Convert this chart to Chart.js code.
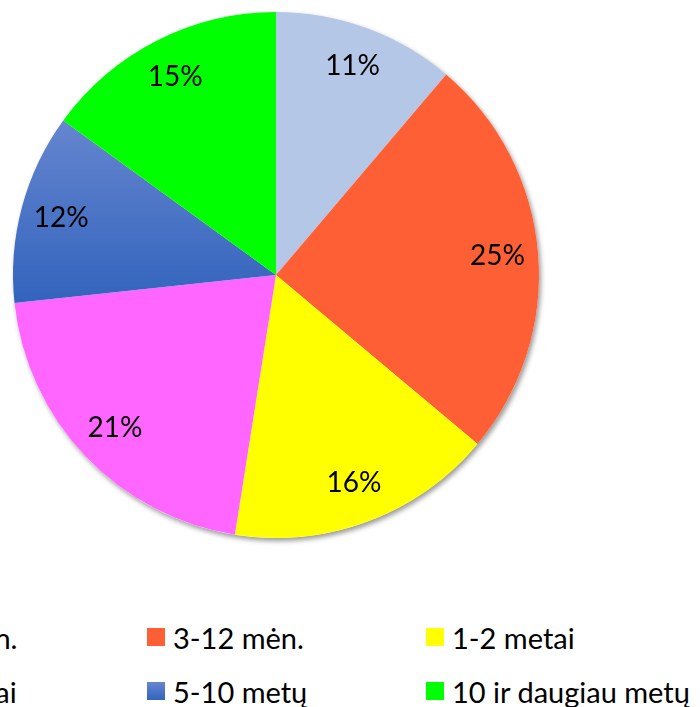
<!DOCTYPE html>
<html>
<head>
<meta charset="utf-8">
<script src="https://cdn.jsdelivr.net/npm/chart.js@4/dist/chart.umd.min.js"></script>
<style>
  html, body { margin: 0; padding: 0; background: #fff; overflow: hidden; }
  #wrap { position: relative; width: 700px; height: 707px; overflow: hidden; }
  #pie { position: absolute; left: 0; top: 0; }
  #legend {
    position: absolute; left: -132px; top: 628px;
    display: grid; grid-template-columns: repeat(3, 279px); grid-auto-rows: 54px;
    font-family: Lato, "Open Sans", sans-serif; font-size: 29px; color: #000;
  }
  .item { display: flex; align-items: flex-start; white-space: nowrap; }
  .box { width: 18px; height: 18px; margin-right: 8px; flex: none; }
  .txt { line-height: 18px; position: relative; top: 1px; }
</style>
</head>
<body>
<div id="wrap">
  <canvas id="pie" width="700" height="560"></canvas>
  <div id="legend"></div>
</div>
<script>
// categories and shares (clockwise from 12 o'clock)
const categories = ['Iki 3 mėn.', '3-12 mėn.', '1-2 metai', '2-5 metai', '5-10 metų', '10 ir daugiau metų'];
const shares = [11.2, 24.9, 16.4, 20.8, 11.7, 15.0];
const sliceColors = ['#B4C7E7', '#FF5F35', '#FFFF00', '#FF66FF', '#4472C4', '#00FF00'];

const total = shares.reduce((a, b) => a + b, 0);

// blue slice has a vertical gradient
function sliceColor(ctx) {
  const i = ctx.dataIndex;
  if (i !== 4) return sliceColors[i];
  const area = ctx.chart.chartArea;
  if (!area) return sliceColors[i];
  const h = area.bottom - area.top;
  const g = ctx.chart.ctx.createLinearGradient(0, area.top + h * 0.2, 0, area.top + h * 0.55);
  g.addColorStop(0, '#6686CF');
  g.addColorStop(1, '#3364BD');
  return g;
}

// soft shadow under the whole pie
const pieShadow = {
  id: 'pieShadow',
  beforeDatasetsDraw(chart) {
    const arc = chart.getDatasetMeta(0).data[0];
    if (!arc) return;
    const c = chart.ctx;
    c.save();
    c.shadowColor = 'rgba(0,0,0,0.4)';
    c.shadowBlur = 5;
    c.shadowOffsetX = 2;
    c.shadowOffsetY = 3;
    c.fillStyle = '#fff';
    c.beginPath();
    c.arc(arc.x, arc.y, arc.outerRadius, 0, Math.PI * 2);
    c.fill();
    c.restore();
  }
};

// percent labels inside the slices
const pctLabels = {
  id: 'pctLabels',
  afterDatasetsDraw(chart) {
    const c = chart.ctx;
    c.save();
    c.font = '28px Lato, "Open Sans", sans-serif';
    c.fillStyle = '#000';
    c.textAlign = 'center';
    c.textBaseline = 'middle';
    chart.getDatasetMeta(0).data.forEach((arc, i) => {
      const mid = (arc.startAngle + arc.endAngle) / 2;
      const r = arc.outerRadius * 0.845;
      const txt = Math.round(shares[i] / total * 100) + '%';
      c.fillText(txt, arc.x + Math.cos(mid) * r, arc.y + Math.sin(mid) * r);
    });
    c.restore();
  }
};

new Chart(document.getElementById('pie'), {
  type: 'pie',
  data: {
    labels: categories,
    datasets: [{
      data: shares,
      backgroundColor: sliceColor,
      borderWidth: 0,
      hoverOffset: 0
    }]
  },
  options: {
    responsive: false,
    animation: false,
    events: [],
    layout: { padding: { left: 13, top: 12, right: 161, bottom: 22 } },
    plugins: {
      legend: { display: false },
      tooltip: { enabled: false }
    }
  },
  plugins: [pieShadow, pctLabels]
});

// legend laid out in 3 columns like the original
const legend = document.getElementById('legend');
categories.forEach((name, i) => {
  const item = document.createElement('div');
  item.className = 'item';
  const box = document.createElement('span');
  box.className = 'box';
  box.style.background = i === 4 ? 'linear-gradient(#6686CF, #3364BD)' : sliceColors[i];
  const txt = document.createElement('span');
  txt.className = 'txt';
  txt.textContent = name;
  item.appendChild(box);
  item.appendChild(txt);
  legend.appendChild(item);
});
</script>
</body>
</html>
